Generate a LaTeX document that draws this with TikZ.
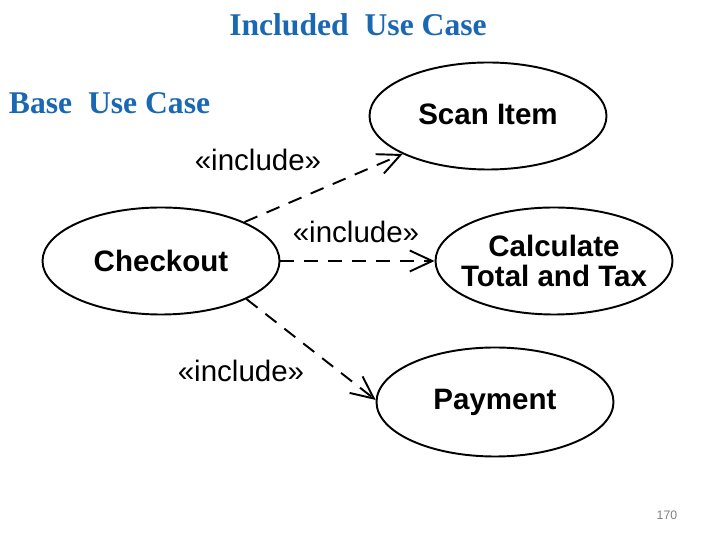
\documentclass[tikz,border=0pt]{standalone}
\usepackage{fontspec}
\setmainfont{Liberation Serif}
\setsansfont{Liberation Sans}
\usetikzlibrary{shapes.geometric,arrows.meta}
\definecolor{titleblue}{HTML}{1A68B3}
\begin{document}
\begin{tikzpicture}[line width=1.1pt,
  usecase/.style={draw, ellipse, inner sep=0pt, minimum width=4.74cm, minimum height=2.14cm},
  casetext/.style={font=\sffamily\bfseries\fontsize{16.8}{17.5}\selectfont, align=center},
  incl/.style={dash pattern=on 0.28cm off 0.2cm, -{Straight Barb[length=4.5mm,width=4.2mm,line width=1.1pt]}},
  stereo/.style={font=\sffamily\fontsize{16.8}{18}\selectfont},
  heading/.style={font=\bfseries\fontsize{18}{21}\selectfont, text=titleblue}]
  \useasboundingbox (0,0) rectangle (14.4,10.8);
  \node[usecase] (scan) at (9.76,8.48) {};
  \node[usecase] (checkout) at (3.22,5.58) {};
  \node[usecase] (calc) at (11.08,5.58) {};
  \node[usecase, minimum height=2.18cm] (payment) at (9.90,2.76) {};
  \node[casetext] (scantext) at (9.76,8.52) {Scan Item};
  \node[casetext] (checkouttext) at (3.22,5.58) {Checkout};
  \node[casetext] (calctext) at (11.08,5.58) {Calculate\\Total and Tax};
  \node[casetext] (paymenttext) at (9.90,2.76) {Payment};
  % include relations
  \draw[incl] (checkout.25) -- (scan.204);
  \draw[incl] (checkout.east) -- (calc.west);
  \draw[incl] (checkout.-24) -- (payment.179);
  \node[stereo] (incl1) at (5.16,7.60) {«include»};
  \node[stereo] (incl2) at (7.12,6.16) {«include»};
  \node[stereo] (incl3) at (4.82,3.38) {«include»};
  \node[heading] (included) at (7.16,10.30) {Included\ \ Use Case};
  \node[heading, anchor=west, inner sep=0pt] (base) at (0.16,8.74) {Base\ \ Use Case};
  \node[font=\sffamily\fontsize{7}{8}\selectfont, text=gray] (pagenum) at (13.34,0.50) {170};
\end{tikzpicture}
\end{document}
